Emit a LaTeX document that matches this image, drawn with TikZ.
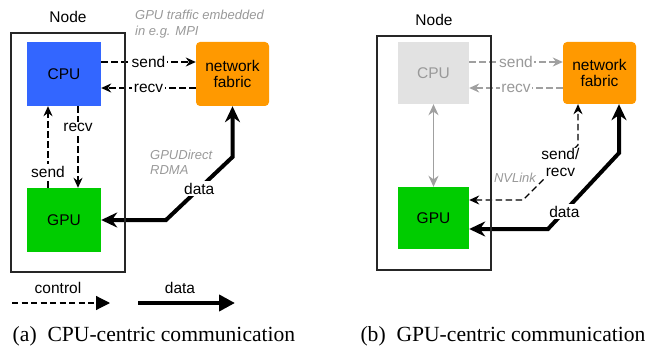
\documentclass[tikz,border=0pt]{standalone}
\usepackage{fontspec}
\setmainfont{Liberation Serif}
\setsansfont{Liberation Sans}
\usetikzlibrary{arrows.meta}
\definecolor{cpublue}{HTML}{3366FF}
\definecolor{gpugreen}{HTML}{00CC00}
\definecolor{fabor}{HTML}{FF9900}
\definecolor{lightbox}{HTML}{E2E2E2}
\definecolor{grtxt}{HTML}{999999}
\definecolor{grline}{HTML}{A0A0A0}
\tikzset{
  fsz/.style={font=\sffamily\fontsize{15.5}{17.5}\selectfont},
  nodebox/.style={draw=black!85, line width=1.1pt, inner sep=0pt},
  unit/.style={fsz, inner sep=0pt, minimum width=#1},
  fabric/.style={fsz, fill=fabor, rounded corners=4pt, inner sep=0pt, align=center},
  lbl/.style={fsz, fill=white, inner sep=1.5pt},
  note/.style={font=\sffamily\itshape\fontsize{13}{15.5}\selectfont, text=grtxt, align=left, inner sep=0pt},
  ctrl/.style={line width=1.2pt, dash pattern=on 6.5pt off 3.5pt, -{Stealth[length=10pt,width=9pt]}},
  ctrlboth/.style={line width=1.2pt, dash pattern=on 6.5pt off 3.5pt, {Stealth[length=10pt,width=9pt]}-{Stealth[length=10pt,width=9pt]}},
  datal/.style={line width=4pt, {Stealth[length=16pt,width=15pt]}-{Stealth[length=16pt,width=15pt]}},
  legctrl/.style={line width=1.2pt, dash pattern=on 6pt off 3.5pt, -{Triangle[length=14pt,width=14pt]}},
  legdata/.style={line width=4pt, -{Triangle[length=16pt,width=16pt]}},
  caption/.style={font=\fontsize{21.6}{26}\selectfont, inner sep=0pt},
}
\begin{document}
\begin{tikzpicture}[x=1pt,y=-1pt]
\useasboundingbox (0,0) rectangle (648,350);

% ===== (a) CPU-centric =====
\node[fsz] (nodelblA) at (68,17) {Node};
\node[unit=74pt, minimum height=64pt, fill=cpublue] (cpuA) at (64,74) {CPU};
\node[unit=74pt, minimum height=64pt, fill=gpugreen] (gpuA) at (64,220) {GPU};
\node[fabric, minimum width=73pt, minimum height=64pt] (fabA) at (232.5,74) {network\\[-1pt]fabric};

\draw[ctrl] ([yshift=12pt]cpuA.east) -- node[lbl]{send} ([yshift=12pt]fabA.west);
\draw[ctrl] ([yshift=-14pt]fabA.west) -- node[lbl]{recv} ([yshift=-14pt]cpuA.east);
\draw[ctrl] ([xshift=14pt]cpuA.south) -- node[lbl, pos=0.26]{recv} ([xshift=14pt]gpuA.north);
\draw[ctrl] ([xshift=-16pt]gpuA.north) -- node[lbl, pos=0.2]{send} ([xshift=-16pt]cpuA.south);

\coordinate (a1) at (166,220);
\coordinate (a2) at (232.5,157);
\draw[datal] (gpuA.east) -- (a1) -- node[lbl]{data} (a2) -- (fabA.south);

\node[nodebox, minimum width=114pt, minimum height=239pt] (nodeA) at (68,152.5) {};

\node[note, anchor=west] (rdma) at (150,162.5) {GPUDirect\\RDMA};
\node[note, anchor=west] (mpi) at (135,24) {GPU traffic embedded\\in e.g. MPI};

% legend
\node[fsz] (legc) at (58,288) {control};
\node[fsz] (legd) at (180,288) {data};
\coordinate (lc1) at (12,303);
\coordinate (lc2) at (110,303);
\coordinate (ld1) at (138,303);
\coordinate (ld2) at (235,303);
\draw[legctrl] (lc1) -- (lc2);
\draw[legdata] (ld1) -- (ld2);

\node[caption] (capA) at (154,336) {(a)\ \ CPU-centric communication};

% ===== (b) GPU-centric =====
\node[fsz] (nodelblB) at (434,20) {Node};
\node[unit=71pt, minimum height=62pt, fill=lightbox, text=grtxt] (cpuB) at (433.5,73) {CPU};
\node[unit=71pt, minimum height=62pt, fill=gpugreen] (gpuB) at (433.5,218) {GPU};
\node[fabric, minimum width=73pt, minimum height=62pt] (fabB) at (599.5,73) {network\\[-1pt]fabric};

\draw[ctrl, draw=grline, -{Stealth[length=10pt,width=9pt,fill=grline]}] ([yshift=11pt]cpuB.east) -- node[lbl, text=grtxt]{send} ([yshift=11pt]fabB.west);
\draw[ctrl, draw=grline, -{Stealth[length=10pt,width=9pt,fill=grline]}] ([yshift=-15pt]fabB.west) -- node[lbl, text=grtxt]{recv} ([yshift=-15pt]cpuB.east);
\draw[grline, line width=1.5pt, {Stealth[length=11pt,width=10pt]}-{Stealth[length=11pt,width=10pt]}] (cpuB.south) -- (gpuB.north);

\coordinate (b1) at (523,200);
\coordinate (b2) at (578,145);
\draw[ctrlboth] ([yshift=18pt]gpuB.east) -- (b1) -- node[lbl, pos=0.68, align=center, inner sep=1pt]{send/\\[-1pt]recv} (b2) -- ([xshift=-21.5pt]fabB.south);

\coordinate (b3) at (548,229);
\coordinate (b4) at (619,153);
\draw[datal] ([yshift=-11pt]gpuB.east) -- (b3) -- node[lbl, pos=0.23]{data} (b4) -- ([xshift=19.5pt]fabB.south);

\node[nodebox, minimum width=114pt, minimum height=234pt] (nodeB) at (434,153) {};

\node[note] (nvl) at (515,178) {NVLink};

\node[caption] (capB) at (503,336) {(b)\ \ GPU-centric communication};
\end{tikzpicture}
\end{document}
